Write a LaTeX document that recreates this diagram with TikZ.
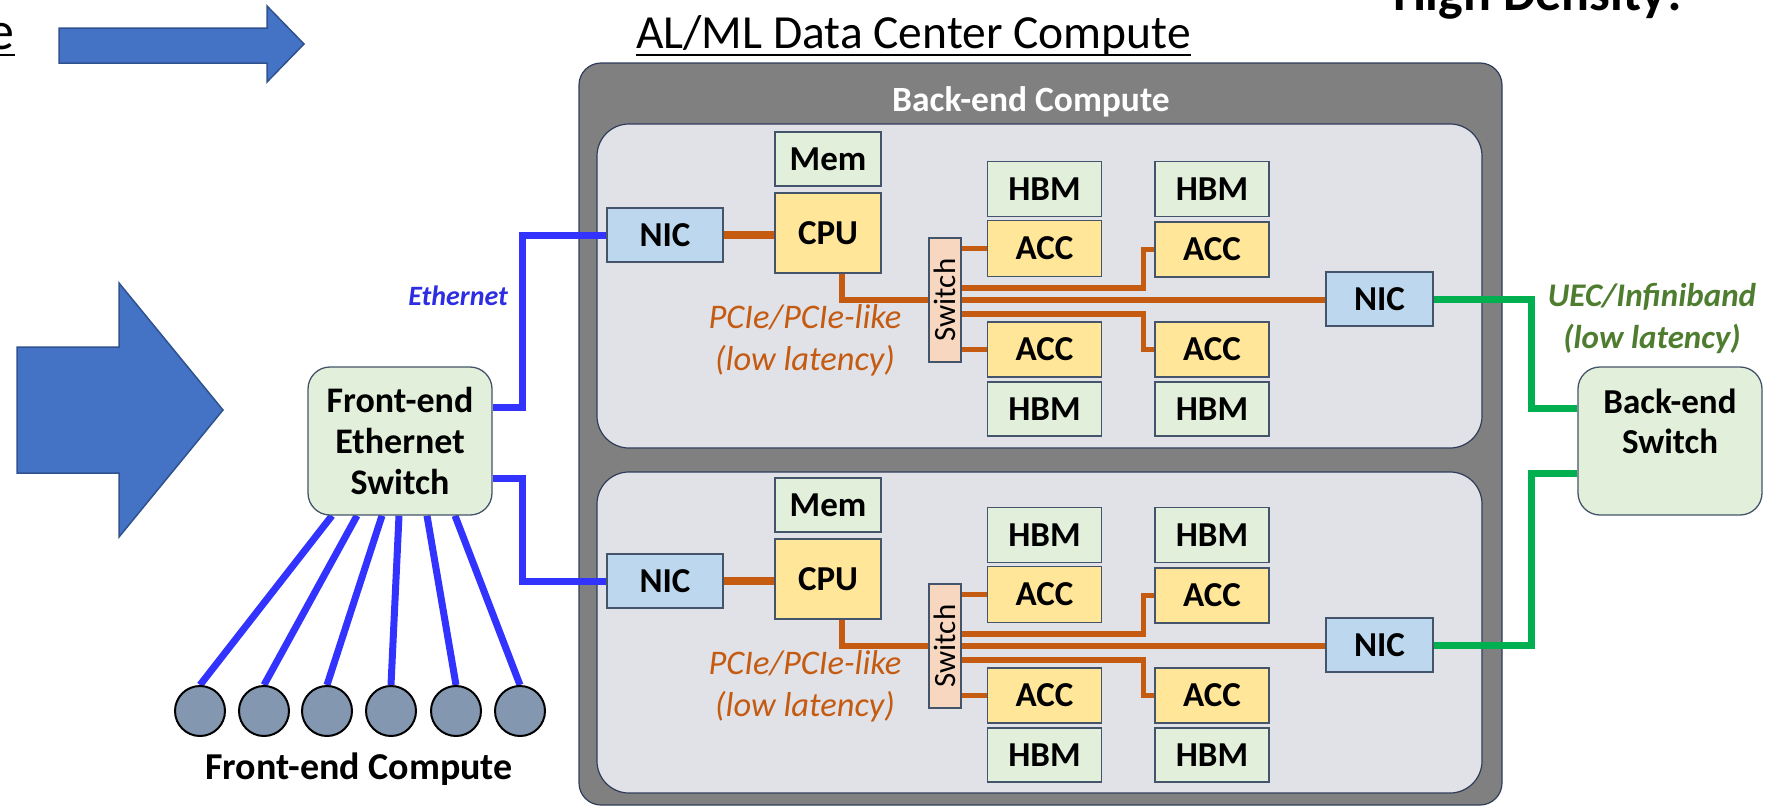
\documentclass[tikz,border=0pt]{standalone}
\usepackage{fontspec}
\setmainfont{Carlito}
\definecolor{nicblue}{RGB}{189,215,238}
\definecolor{memgreen}{RGB}{226,239,218}
\definecolor{cpuyellow}{RGB}{255,230,153}
\definecolor{swpeach}{RGB}{248,215,193}
\definecolor{edgec}{RGB}{68,84,106}
\definecolor{innerfill}{RGB}{224,226,231}
\definecolor{outerfill}{RGB}{128,128,128}
\definecolor{outeredge}{RGB}{47,60,90}
\definecolor{ethblue}{RGB}{51,51,255}
\definecolor{ethtext}{RGB}{45,45,225}
\definecolor{pcieorange}{RGB}{197,90,17}
\definecolor{uecgreen}{RGB}{0,176,80}
\definecolor{uectext}{RGB}{78,125,48}
\definecolor{arrowblue}{RGB}{68,114,196}
\definecolor{arrowedge}{RGB}{47,82,143}
\definecolor{nodegray}{RGB}{132,151,176}
\pgfdeclarelayer{boxes}
\pgfdeclarelayer{lines}
\pgfsetlayers{boxes,lines,main}
\begin{document}
\begin{tikzpicture}[x=1pt,y=-1pt,
  box/.style={draw=edgec, line width=1.3pt, inner sep=0pt, font=\fontsize{35}{38}\selectfont\bfseries},
  nicbox/.style={box, fill=nicblue},
  membox/.style={box, fill=memgreen},
  cpubox/.style={box, fill=cpuyellow},
  swbox/.style={box, fill=swpeach, font=\fontsize{31}{33}\selectfont},
  pc/.style={draw=pcieorange, line width=5.5pt},
  pcthick/.style={draw=pcieorange, line width=8pt},
  eth/.style={draw=ethblue, line width=7pt},
  uec/.style={draw=uecgreen, line width=7pt},
  netsw/.style={draw=edgec, line width=1.3pt, fill=memgreen, rounded corners=22pt, inner sep=0pt, align=center},
  compute/.style={circle, draw=black, line width=2pt, fill=nodegray, minimum size=50pt, inner sep=0pt},
  innerbox/.style={draw=outeredge, line width=1.2pt, fill=innerfill, rounded corners=32pt, inner sep=0pt},
  outerbox/.style={draw=outeredge, line width=1.2pt, fill=outerfill, rounded corners=22pt, inner sep=0pt},
  pcielbl/.style={align=center, inner sep=0pt, text=pcieorange, font=\fontsize{34.5}{42}\selectfont\itshape},
  arrowshape/.style={fill=arrowblue, draw=arrowedge, line width=1.5pt, line join=miter}
]
\useasboundingbox (0,0) rectangle (1772,806);

% top-left cut text
\node[anchor=base east, inner sep=0pt, font=\fontsize{54}{56}\selectfont] (cut) at (15,49) {e};
\draw[line width=2.5pt] ([yshift=-6pt]cut.base west) -- ([yshift=-6pt]cut.base east);

% title
\node[anchor=base west, inner sep=0pt, font=\fontsize{47.5}{50}\selectfont] (title) at (636,48) {AL/ML Data Center Compute};
\draw[line width=2.5pt] ([yshift=-7pt]title.base west) -- ([yshift=-7pt]title.base east);

% top-right cut text
\node[anchor=base, inner sep=0pt, font=\fontsize{52}{54}\selectfont\bfseries] (hd) at (1538,10) {High Density!};

% arrows
\draw[arrowshape] (59,28) -- (267,28) -- (267,6) -- (304,44) -- (267,82) -- (267,63) -- (59,63) -- cycle;
\draw[arrowshape] (17,347) -- (119,347) -- (119,283) -- (223,410) -- (119,537) -- (119,473) -- (17,473) -- cycle;

% containers
\begin{pgfonlayer}{boxes}
\node[outerbox, minimum width=923pt, minimum height=742pt] (outer) at (1040.5,434) {};
\node[innerbox, minimum width=885pt, minimum height=324pt] (inneru) at (1039.5,286) {};
\node[innerbox, minimum width=885pt, minimum height=321pt] (innerl) at (1039.5,632.5) {};
\end{pgfonlayer}
\node[text=white, inner sep=0pt, font=\fontsize{35.5}{38}\selectfont\bfseries] (bec) at (1031,102) {Back-end Compute};

% two compute blades
\foreach \s/\dy in {u/0,l/346}{
  \node[nicbox, minimum width=116pt, minimum height=54pt] (nica\s) at (665,{235+\dy}) {NIC};
  \node[membox, minimum width=106pt, minimum height=54pt] (mem\s) at (828,{159+\dy}) {Mem};
  \node[cpubox, minimum width=106pt, minimum height=80pt] (cpu\s) at (828,{233+\dy}) {CPU};
  \node[swbox, minimum width=32pt, minimum height=124pt] (sw\s) at (945,{300+\dy}) {\rotatebox{90}{Switch}};
  \node[membox, minimum width=114pt, minimum height=55pt] (hbma\s) at (1044.5,{189+\dy}) {HBM};
  \node[cpubox, minimum width=114pt, minimum height=56pt] (acca\s) at (1044.5,{248.5+\dy}) {ACC};
  \node[cpubox, minimum width=114pt, minimum height=55pt] (accc\s) at (1044.5,{349.5+\dy}) {ACC};
  \node[membox, minimum width=114pt, minimum height=54pt] (hbmc\s) at (1044.5,{409+\dy}) {HBM};
  \node[membox, minimum width=114pt, minimum height=55pt] (hbmb\s) at (1212,{189+\dy}) {HBM};
  \node[cpubox, minimum width=114pt, minimum height=55pt] (accb\s) at (1212,{249.5+\dy}) {ACC};
  \node[cpubox, minimum width=114pt, minimum height=55pt] (accd\s) at (1212,{349.5+\dy}) {ACC};
  \node[membox, minimum width=114pt, minimum height=54pt] (hbmd\s) at (1212,{409+\dy}) {HBM};
  \node[nicbox, minimum width=107pt, minimum height=54pt] (nicb\s) at (1379.5,{299+\dy}) {NIC};
  \node[pcielbl] (pcie\s) at (805,{340+\dy}) {PCIe/PCIe-like\\(low latency)};
  \begin{pgfonlayer}{lines}
    \draw[pcthick] (nica\s.east) -- (nica\s.east -| cpu\s.west);
    \draw[pc] ([xshift=14pt]cpu\s.south) |- (sw\s.west);
    \draw[pc] (sw\s.east) -- (sw\s.east -| nicb\s.west);
    \draw[pc] (acca\s.west -| sw\s.east) -- (acca\s.west);
    \draw[pc] (accc\s.west -| sw\s.east) -- (accc\s.west);
    \draw[pc] (accb\s.west) -- ++(-11,0) |- ([yshift=12pt]sw\s.east);
    \draw[pc] (accd\s.west) -- ++(-11,0) |- ([yshift=-14pt]sw\s.east);
  \end{pgfonlayer}
}

% front-end switch and compute
\node[netsw, minimum width=184pt, minimum height=148pt, font=\fontsize{36}{41}\selectfont\bfseries] (fes) at (400,441) {Front-end\\Ethernet\\Switch};
\foreach \i/\cx in {1/200,2/264,3/327,4/391,5/456,6/520}
  \node[compute] (c\i) at (\cx,711) {};
\node[inner sep=0pt, font=\fontsize{38}{40}\selectfont\bfseries] (fec) at (359,769) {Front-end Compute};

% back-end switch
\node[netsw, minimum width=184pt, minimum height=148pt, font=\fontsize{35}{40}\selectfont\bfseries] (bes) at (1670,441) {Back-end\\Switch\\\mbox{}};

% labels
\node[anchor=east, inner sep=0pt, text=ethtext, font=\fontsize{28}{32}\selectfont\bfseries\itshape] (ethl) at (508,296) {Ethernet};
\node[align=center, inner sep=0pt, text=uectext, font=\fontsize{33}{42}\selectfont\bfseries\itshape] (uecl) at (1652,318) {UEC/Infiniband\\(low latency)};

% connectors
\begin{pgfonlayer}{lines}
  \draw[eth] ([yshift=34pt]fes.east) -- ++(30,0) |- (nicau.west);
  \draw[eth] ([yshift=-37pt]fes.east) -- ++(30,0) |- (nical.west);
  \foreach \i/\o in {1/-68,2/-43,3/-18,4/-1,5/27,6/55}
    \draw[eth] ([xshift={\o pt}]fes.south) -- (c\i.north);
  \draw[uec] ([yshift=33pt]bes.west) -- ++(-46,0) |- (nicbu.east);
  \draw[uec] ([yshift=-32pt]bes.west) -- ++(-46,0) |- (nicbl.east);
\end{pgfonlayer}
\end{tikzpicture}
\end{document}
